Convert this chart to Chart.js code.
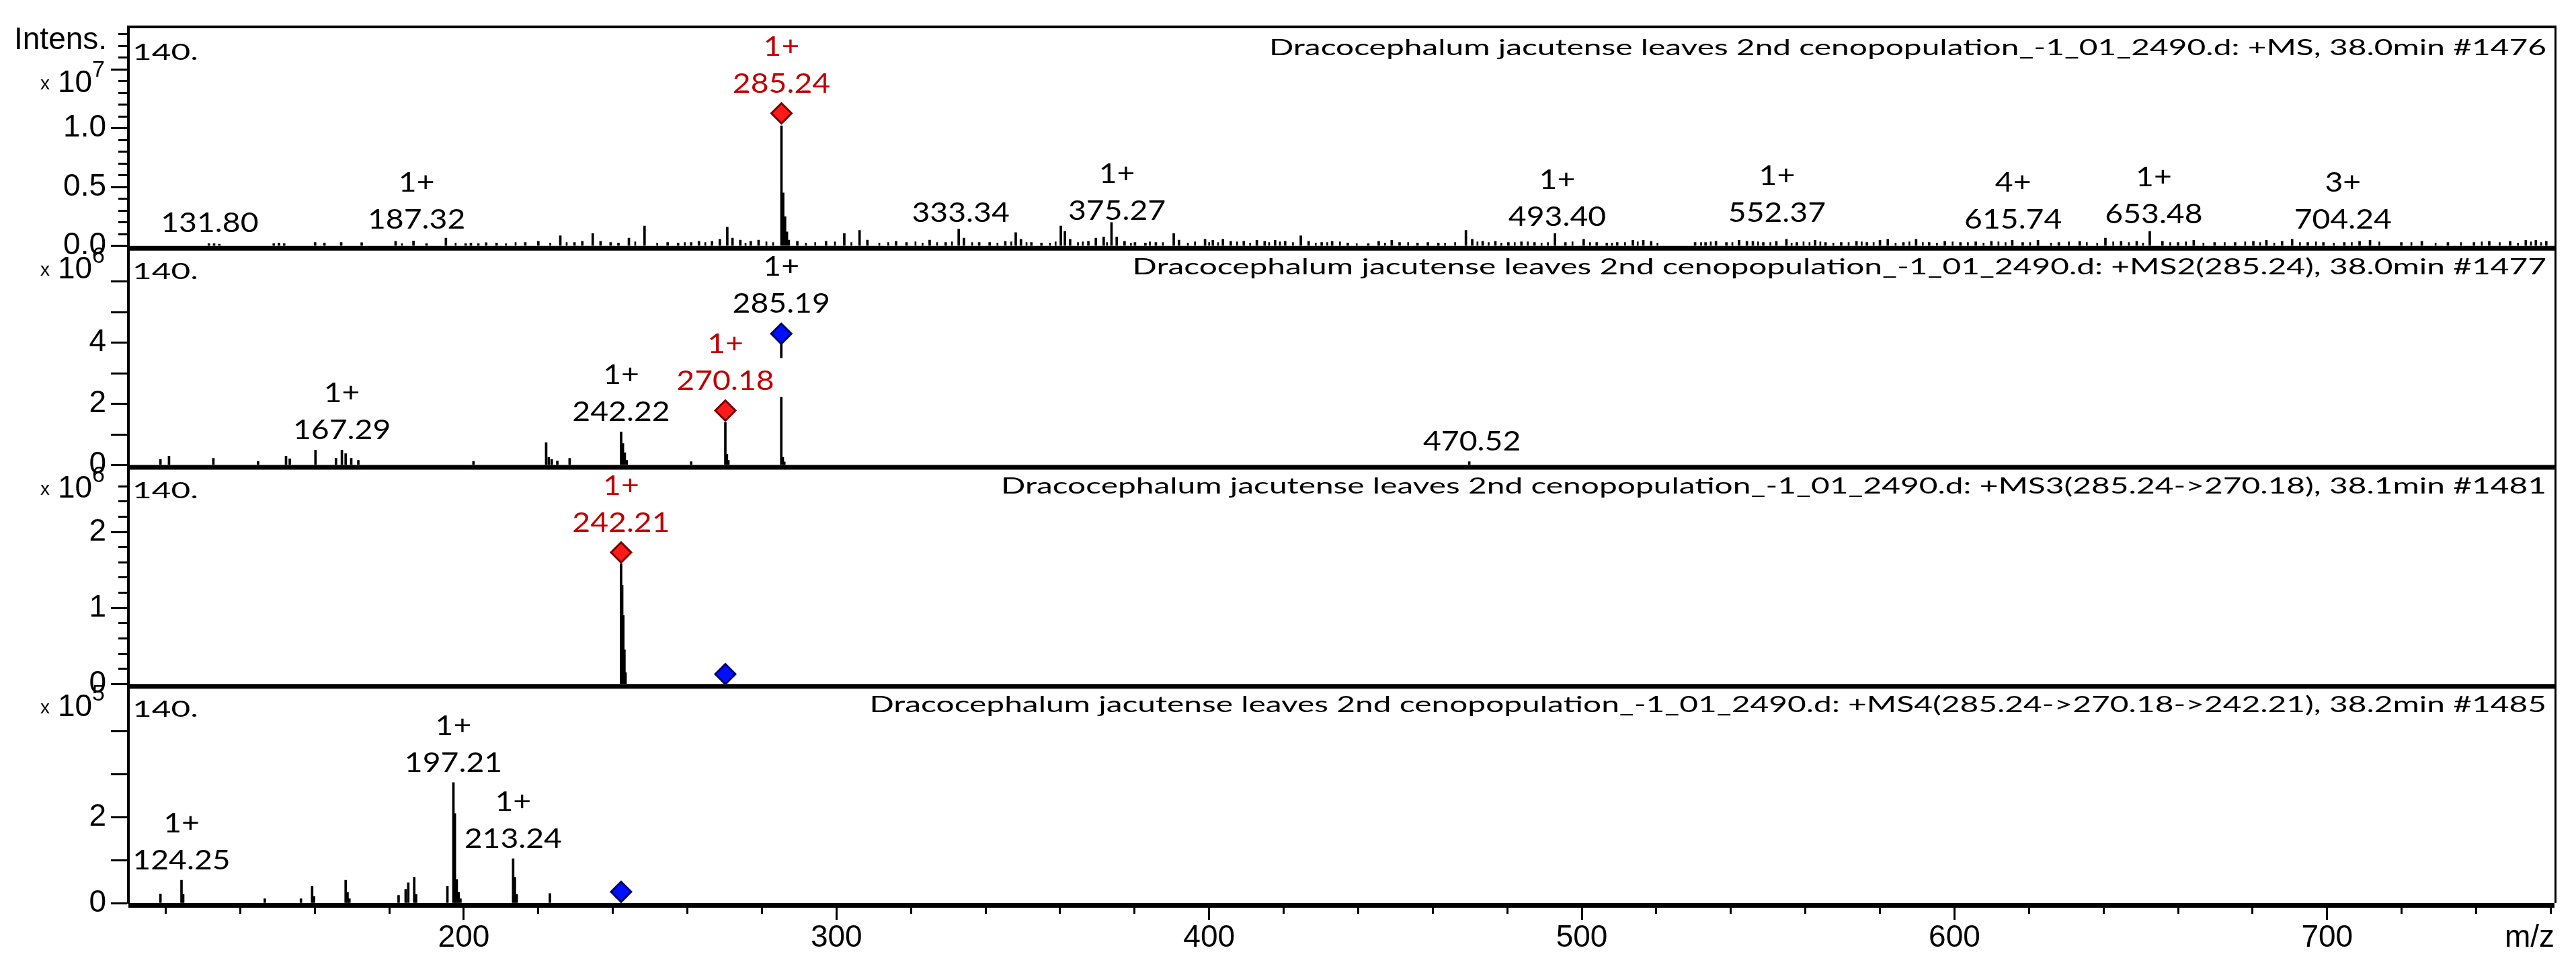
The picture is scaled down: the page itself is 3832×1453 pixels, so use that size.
<!DOCTYPE html>
<html>
<head>
<meta charset="utf-8">
<title>Dracocephalum jacutense MSn spectra</title>
<script src="https://cdn.jsdelivr.net/npm/chart.js@4.4.1/dist/chart.umd.min.js"></script>
<style>
  html, body { margin: 0; padding: 0; background: #fff; }
  canvas { display: block; }
</style>
</head>
<body>
<canvas id="spectra" width="3832" height="1453"></canvas>
<script>
'use strict';

// ---- m/z axis ----
var mzTicks = [120, 140, 160, 180, 200, 220, 240, 260, 280, 300, 320, 340, 360, 380, 400, 420, 440,
  460, 480, 500, 520, 540, 560, 580, 600, 620, 640, 660, 680, 700, 720, 740, 760];
var mzMajor = [200, 300, 400, 500, 600, 700];
var mzLabels = ['200', '300', '400', '500', '600', '700'];

// ---- panel 1: +MS (x10^7) ----
var ms1Mz = [131.6, 133.0, 134.4, 149.0, 150.4, 151.8, 160.1, 162.6, 167.1, 172.6, 181.7, 186.5, 190.0,
  195.2, 200.5, 201.9, 203.9, 206.0, 208.8, 216.5, 220.0, 225.9, 229.7, 231.8, 234.6, 236.7, 239.4,
  241.5, 244.3, 248.5, 254.7, 257.5, 261.0, 263.1, 266.6, 268.7, 270.7, 272.1, 274.2, 277.0, 279.1,
  285.24, 285.7, 286.2, 286.7, 287.2, 289.5, 297.2, 302.1, 306.2, 308.3, 316.0, 318.8, 325.0, 329.3,
  332.8, 334.2, 338.3, 341.1, 345.3, 348.1, 349.5, 352.3, 355.0, 360.2, 361.3, 362.7, 367.6, 369.6,
  371.7, 373.8, 375.2, 377.3, 380.1, 382.9, 385.7, 390.5, 391.9, 398.9, 401.0, 403.7, 405.8, 409.3,
  412.8, 414.9, 417.7, 420.4, 424.6, 426.7, 430.2, 433.0, 437.2, 442.7, 445.5, 449.0, 451.1, 455.9,
  458.7, 461.5, 468.9, 470.6, 473.4, 476.8, 480.3, 483.8, 487.3, 492.8, 495.6, 500.5, 504.0, 506.7,
  509.5, 513.7, 516.5, 518.6, 530.4, 533.2, 536.0, 538.8, 542.2, 544.3, 545.9, 548.7, 552.2, 554.9,
  557.7, 562.6, 565.4, 569.6, 573.7, 576.5, 580.0, 582.1, 586.3, 589.7, 593.2, 597.4, 601.6, 605.7,
  609.9, 615.5, 618.3, 622.4, 628.0, 633.6, 640.5, 644.7, 648.9, 652.4, 655.8, 660.0, 664.2, 669.8,
  675.3, 680.2, 683.7, 687.9, 690.6, 694.8, 699.0, 704.6, 708.7, 711.5, 719.9, 725.4, 732.4, 739.4,
  743.5, 749.1, 753.3, 756.0, 758.8];
var ms1Int = [0.02, 0.02, 0.015, 0.02, 0.025, 0.02, 0.03, 0.025, 0.03, 0.028, 0.04, 0.042, 0.02,
  0.067, 0.02, 0.025, 0.02, 0.028, 0.025, 0.03, 0.04, 0.086, 0.03, 0.04, 0.105, 0.04, 0.03,
  0.025, 0.067, 0.17, 0.03, 0.025, 0.03, 0.04, 0.04, 0.057, 0.16, 0.067, 0.05, 0.04, 0.05,
  1.02, 0.45, 0.25, 0.12, 0.05, 0.04, 0.04, 0.105, 0.133, 0.05, 0.04, 0.03, 0.05, 0.03,
  0.143, 0.067, 0.03, 0.03, 0.04, 0.114, 0.057, 0.03, 0.025, 0.17, 0.124, 0.057, 0.04, 0.067,
  0.076, 0.2, 0.076, 0.04, 0.03, 0.025, 0.03, 0.105, 0.05, 0.057, 0.048, 0.057, 0.04, 0.04,
  0.048, 0.04, 0.048, 0.04, 0.086, 0.04, 0.03, 0.04, 0.025, 0.02, 0.04, 0.048, 0.03, 0.025,
  0.03, 0.025, 0.133, 0.057, 0.04, 0.04, 0.03, 0.035, 0.03, 0.105, 0.03, 0.057, 0.03, 0.025,
  0.03, 0.048, 0.048, 0.04, 0.03, 0.03, 0.04, 0.03, 0.048, 0.04, 0.04, 0.03, 0.04, 0.057,
  0.03, 0.048, 0.03, 0.03, 0.04, 0.03, 0.048, 0.057, 0.03, 0.057, 0.03, 0.04, 0.03, 0.035,
  0.04, 0.048, 0.03, 0.048, 0.03, 0.04, 0.067, 0.04, 0.04, 0.124, 0.04, 0.03, 0.048, 0.03,
  0.03, 0.04, 0.048, 0.04, 0.057, 0.03, 0.03, 0.03, 0.04, 0.048, 0.03, 0.04, 0.03, 0.03,
  0.04, 0.04, 0.048, 0.048, 0.04];
// low-level baseline grass of the full scan
var ms1GrassMz = [183.4, 197.8, 211.3, 213.9, 223.2, 227.6, 246.0, 251.9, 259.3, 264.8, 275.6, 281.2,
  283.0, 291.8, 294.3, 299.6, 304.0, 311.5, 313.9, 321.2, 323.1, 327.0, 331.0, 336.4, 343.2, 346.9,
  351.0, 357.3, 358.8, 364.8, 366.1, 372.6, 379.0, 384.1, 387.6, 394.3, 396.2, 400.0, 402.4, 407.5,
  411.0, 416.1, 419.0, 422.5, 428.6, 431.7, 435.1, 439.6, 447.2, 453.4, 463.3, 466.0, 472.0, 475.0,
  478.4, 482.0, 485.5, 489.2, 490.9, 497.5, 502.2, 508.1, 511.6, 515.0, 520.3, 532.0, 534.6, 540.4,
  547.3, 550.6, 556.3, 559.5, 561.1, 564.0, 567.5, 571.6, 575.1, 578.3, 584.2, 587.9, 591.5, 595.3,
  599.5, 603.6, 607.8, 611.8, 613.7, 620.3, 625.9, 630.7, 635.5, 638.3, 642.6, 646.8, 650.6, 657.9,
  662.1, 666.8, 672.5, 678.0, 682.0, 685.8, 692.7, 697.0, 701.8, 706.6, 714.0, 722.6, 729.1, 735.9,
  741.5, 746.3, 751.2, 754.7, 757.4];
var ms1GrassInt = [0.02, 0.025, 0.02, 0.03, 0.025, 0.03, 0.035, 0.025, 0.03, 0.03, 0.025, 0.035,
  0.03, 0.025, 0.03, 0.035, 0.03, 0.025, 0.03, 0.035, 0.025, 0.03, 0.035, 0.03, 0.025, 0.035,
  0.03, 0.025, 0.035, 0.03, 0.035, 0.03, 0.025, 0.035, 0.03, 0.025, 0.035, 0.03, 0.03, 0.035,
  0.025, 0.03, 0.035, 0.03, 0.025, 0.03, 0.035, 0.02, 0.025, 0.03, 0.025, 0.03, 0.035, 0.03,
  0.025, 0.03, 0.035, 0.025, 0.03, 0.035, 0.03, 0.025, 0.03, 0.035, 0.025, 0.03, 0.035, 0.03,
  0.035, 0.03, 0.025, 0.035, 0.03, 0.035, 0.025, 0.03, 0.035, 0.03, 0.025, 0.035, 0.03, 0.025,
  0.035, 0.03, 0.025, 0.035, 0.03, 0.03, 0.025, 0.035, 0.03, 0.025, 0.035, 0.03, 0.025, 0.03,
  0.035, 0.025, 0.03, 0.035, 0.03, 0.025, 0.03, 0.035, 0.025, 0.03, 0.035, 0.03, 0.025, 0.03,
  0.035, 0.03, 0.025, 0.035, 0.03];
var ms1Ticks = [0, 0.1, 0.2, 0.3, 0.4, 0.5, 0.6, 0.7, 0.8, 0.9, 1.0, 1.1, 1.2, 1.3, 1.4, 1.5, 1.6, 1.7, 1.8];
var ms1Major = [0, 0.5, 1.0, 1.5];
var ms1TickLabels = ['0.0', '0.5', '1.0', ''];
var ms1LabelMz = [131.80, 187.32, 285.24, 333.34, 375.27, 493.40, 552.37, 615.74, 653.48, 704.24];
var ms1LabelCharge = ['', '1+', '1+', '', '1+', '1+', '1+', '4+', '1+', '3+'];
var ms1LabelAt = [0.027, 0.056, null, 0.113, 0.13, 0.079, 0.113, 0.056, 0.10, 0.056];
var ms1RedMz = [285.24];
var ms1RedInt = [1.126];
var ms1BlueMz = [];
var ms1BlueInt = [];

// ---- panel 2: +MS2(285.24) (x10^6) ----
var ms2Mz = [118.6, 120.9, 132.8, 144.8, 152.3, 153.3, 160.2, 165.7, 167.29, 168.3, 169.8, 171.7,
  202.6, 222.1, 222.8, 223.6, 225.1, 228.4, 242.22, 242.7, 243.2, 243.7, 261.0, 270.18, 270.6,
  271.0, 285.19, 285.6, 286.0, 469.8];
var ms2Int = [0.18, 0.29, 0.22, 0.12, 0.29, 0.2, 0.49, 0.22, 0.49, 0.37, 0.22, 0.15,
  0.12, 0.73, 0.25, 0.18, 0.13, 0.22, 1.08, 0.7, 0.4, 0.15, 0.11, 1.39, 0.35,
  0.15, 2.22, 0.25, 0.1, 0.11];
var ms2Ticks = [0, 1, 2, 3, 4, 5, 6];
var ms2Major = [0, 1, 2, 3, 4, 5, 6];
var ms2TickLabels = ['0', '', '2', '', '4', '', ''];
var ms2LabelMz = [167.29, 242.22, 270.18, 285.19, 470.52];
var ms2LabelCharge = ['1+', '1+', '1+', '1+', ''];
var ms2LabelAt = [0.49, 1.08, null, null, 0.11];
var ms2RedMz = [270.18];
var ms2RedInt = [1.78];
var ms2BlueMz = [285.19];
var ms2BlueInt = [4.29];
var ms2StemMz = [285.19];
var ms2StemRange = [[3.5, 3.98]];

// ---- panel 3: +MS3(285.24->270.18) (x10^6) ----
var ms3Mz = [242.21, 242.5, 242.8, 243.1, 243.4];
var ms3Int = [1.58, 1.3, 0.9, 0.45, 0.15];
var ms3Ticks = [0, 0.2, 0.4, 0.6, 0.8, 1.0, 1.2, 1.4, 1.6, 1.8, 2.0, 2.2, 2.4, 2.6];
var ms3Major = [0, 1.0, 2.0];
var ms3TickLabels = ['0', '1', '2'];
var ms3LabelMz = [242.21];
var ms3LabelCharge = ['1+'];
var ms3LabelAt = [null];
var ms3RedMz = [242.21];
var ms3RedInt = [1.73];
var ms3BlueMz = [270.18];
var ms3BlueInt = [0.13];

// ---- panel 4: +MS4(285.24->270.18->242.21) (x10^5) ----
var ms4Mz = [118.6, 124.25, 124.7, 146.6, 156.3, 159.3, 159.8, 168.3, 168.8, 169.3, 182.5, 184.4,
  185.1, 186.7, 187.2, 195.6, 197.21, 197.6, 198.1, 198.6, 199.1, 213.24, 213.7, 214.2, 223.1];
var ms4Int = [0.21, 0.53, 0.2, 0.1, 0.1, 0.39, 0.15, 0.53, 0.25, 0.1, 0.18, 0.32,
  0.47, 0.6, 0.2, 0.39, 2.8, 2.08, 0.55, 0.25, 0.1, 1.03, 0.6, 0.2, 0.22];
var ms4Ticks = [0, 1, 2, 3, 4];
var ms4Major = [0, 1, 2, 3, 4];
var ms4TickLabels = ['0', '', '2', '', ''];
var ms4LabelMz = [124.25, 197.21, 213.24];
var ms4LabelCharge = ['1+', '1+', '1+'];
var ms4LabelAt = [0.53, 2.8, 1.03];
var ms4RedMz = [];
var ms4RedInt = [];
var ms4BlueMz = [242.21];
var ms4BlueInt = [0.26];

var spectrumTitles = [
  'Dracocephalum jacutense leaves 2nd cenopopulation_-1_01_2490.d: +MS, 38.0min #1476',
  'Dracocephalum jacutense leaves 2nd cenopopulation_-1_01_2490.d: +MS2(285.24), 38.0min #1477',
  'Dracocephalum jacutense leaves 2nd cenopopulation_-1_01_2490.d: +MS3(285.24->270.18), 38.1min #1481',
  'Dracocephalum jacutense leaves 2nd cenopopulation_-1_01_2490.d: +MS4(285.24->270.18->242.21), 38.2min #1485'
];
var scaleExponents = ['7', '6', '6', '5'];

// ---- styling ----
var AXIS_FONT = '"Liberation Sans", Arial, sans-serif';
var NOTE_FONT = 'Lato, "Open Sans", sans-serif';
var RED_TEXT = '#c00000';
var MARKER_R = 15;
var LABEL_GAP = 16;
var CHARGE_STEP = 55;

function pts(mz, val) {
  return mz.map(function(m, i) { return {x: m, y: val[i]}; });
}

function has(list, v) {
  for (var i = 0; i < list.length; i++) {
    if (Math.abs(list[i] - v) < 1e-6) return i;
  }
  return -1;
}

var panels = [
  {id: 'yMS1', max: 1.86, mz: ms1Mz, val: ms1Int, ticks: ms1Ticks, major: ms1Major, tickLabels: ms1TickLabels,
    labelMz: ms1LabelMz, labelCharge: ms1LabelCharge, labelAt: ms1LabelAt,
    redMz: ms1RedMz, redInt: ms1RedInt, blueMz: ms1BlueMz, blueInt: ms1BlueInt},
  {id: 'yMS2', max: 7.16, mz: ms2Mz, val: ms2Int, ticks: ms2Ticks, major: ms2Major, tickLabels: ms2TickLabels,
    labelMz: ms2LabelMz, labelCharge: ms2LabelCharge, labelAt: ms2LabelAt,
    redMz: ms2RedMz, redInt: ms2RedInt, blueMz: ms2BlueMz, blueInt: ms2BlueInt},
  {id: 'yMS3', max: 2.88, mz: ms3Mz, val: ms3Int, ticks: ms3Ticks, major: ms3Major, tickLabels: ms3TickLabels,
    labelMz: ms3LabelMz, labelCharge: ms3LabelCharge, labelAt: ms3LabelAt,
    redMz: ms3RedMz, redInt: ms3RedInt, blueMz: ms3BlueMz, blueInt: ms3BlueInt},
  {id: 'yMS4', max: 5.09, mz: ms4Mz, val: ms4Int, ticks: ms4Ticks, major: ms4Major, tickLabels: ms4TickLabels,
    labelMz: ms4LabelMz, labelCharge: ms4LabelCharge, labelAt: ms4LabelAt,
    redMz: ms4RedMz, redInt: ms4RedInt, blueMz: ms4BlueMz, blueInt: ms4BlueInt}
];

// ---- datasets ----
var datasets = [];
panels.forEach(function(p) {
  datasets.push({
    type: 'line', yAxisID: p.id, order: 0, showLine: false,
    data: pts(p.redMz, p.redInt),
    pointStyle: 'rectRot', pointRadius: MARKER_R, pointBorderWidth: 3,
    pointBackgroundColor: '#ff1a1a', pointBorderColor: '#7a0000'
  });
  datasets.push({
    type: 'line', yAxisID: p.id, order: 0, showLine: false,
    data: pts(p.blueMz, p.blueInt),
    pointStyle: 'rectRot', pointRadius: MARKER_R, pointBorderWidth: 3,
    pointBackgroundColor: '#0010ff', pointBorderColor: '#000070'
  });
  datasets.push({
    type: 'bar', yAxisID: p.id, order: 1,
    data: pts(p.mz, p.val),
    backgroundColor: '#000', borderWidth: 0, barThickness: 3, grouped: false
  });
});
datasets.push({
  type: 'bar', yAxisID: 'yMS1', order: 1,
  data: pts(ms1GrassMz, ms1GrassInt),
  backgroundColor: '#000', borderWidth: 0, barThickness: 2, grouped: false
});
datasets.push({
  type: 'bar', yAxisID: 'yMS2', order: 1,
  data: pts(ms2StemMz, ms2StemRange),
  backgroundColor: '#000', borderWidth: 0, barThickness: 3, grouped: false
});

// ---- scales ----
var scales = {
  x: {
    type: 'linear', min: 110, max: 761, offset: false,
    border: {display: false},
    grid: {
      offset: false, drawOnChartArea: false, drawTicks: true,
      tickLength: 25, tickWidth: 3, tickColor: '#000',
      tickBorderDash: function(c) {
        return c.tick && has(mzMajor, c.tick.value) >= 0 ? [] : [16, 100];
      }
    },
    ticks: {
      autoSkip: false, maxRotation: 0, minRotation: 0, padding: 0, color: '#000',
      font: {family: AXIS_FONT, size: 46},
      callback: function(v) {
        var i = has(mzMajor, v);
        return i >= 0 ? mzLabels[i] : '';
      }
    },
    afterBuildTicks: function(s) {
      s.ticks = mzTicks.map(function(v) { return {value: v}; });
    },
    afterFit: function(s) { s.height = 110; },
    title: {
      display: true, text: 'm/z', align: 'end', color: '#000',
      font: {family: AXIS_FONT, size: 46}, padding: {top: 0, bottom: 30}
    }
  }
};

panels.forEach(function(p, k) {
  scales[p.id] = {
    type: 'linear', position: 'left', stack: 'spectra', stackWeight: 1, weight: 4 - k,
    min: 0, max: p.max,
    border: {display: true, color: '#000', width: 4},
    grid: {
      drawOnChartArea: false, drawTicks: true,
      tickLength: 26, tickWidth: 3, tickColor: '#000',
      tickBorderDash: function(c) {
        return c.tick && has(p.major, c.tick.value) >= 0 ? [] : [0, 11, 13, 100];
      }
    },
    ticks: {
      autoSkip: false, padding: 7, color: '#000',
      font: {family: AXIS_FONT, size: 46},
      callback: function(v) {
        var i = has(p.major, v);
        return i >= 0 ? p.tickLabels[i] : '';
      }
    },
    afterBuildTicks: function(s) {
      s.ticks = p.ticks.map(function(v) { return {value: v}; });
    },
    afterFit: function(s) { s.width = 191; }
  };
});

// ---- text and frame ----
function stretchText(ctx, text, x, y, sx, align) {
  ctx.save();
  ctx.translate(x, y);
  ctx.scale(sx, 1);
  ctx.textAlign = align;
  ctx.fillText(text, 0, 0);
  ctx.restore();
}

function markerAt(p, m) {
  var i = has(p.redMz, m);
  if (i >= 0) return {y: p.redInt[i], red: true};
  i = has(p.blueMz, m);
  if (i >= 0) return {y: p.blueInt[i], red: false};
  return null;
}

var spectrumText = {
  id: 'spectrumText',
  beforeDatasetsDraw: function(chart) {
    var ctx = chart.ctx, a = chart.chartArea;
    ctx.save();
    ctx.fillStyle = '#000';
    panels.forEach(function(p) {
      var y0 = chart.scales[p.id].getPixelForValue(0);
      ctx.fillRect(a.left, y0, a.right - a.left, 7);
    });
    ctx.fillRect(a.left, a.top - 2, a.right - a.left + 3, 4);
    ctx.fillRect(a.right, a.top - 2, 3, a.bottom - a.top + 2);
    ctx.restore();
  },
  afterDatasetsDraw: function(chart) {
    var ctx = chart.ctx, a = chart.chartArea, xs = chart.scales.x;
    ctx.save();
    ctx.textBaseline = 'alphabetic';

    // Intens. and x10^n
    ctx.fillStyle = '#000';
    ctx.font = '46px ' + AXIS_FONT;
    ctx.textAlign = 'left';
    ctx.fillText('Intens.', 21, chart.scales.yMS1.top + 33);

    panels.forEach(function(p, k) {
      var ys = chart.scales[p.id];
      var top = ys.top + (k === 0 ? 49 : 0);
      ctx.fillStyle = '#000';
      ctx.textAlign = 'left';
      ctx.font = '28px ' + AXIS_FONT;
      ctx.fillText('x', 60, top + 44);
      ctx.font = '46px ' + AXIS_FONT;
      ctx.fillText('10', 86, top + 48);
      ctx.font = '34px ' + AXIS_FONT;
      ctx.fillText(scaleExponents[k], 137, top + 25);

      // scan title and low-mass cut-off
      ctx.font = '33px ' + NOTE_FONT;
      stretchText(ctx, spectrumTitles[k], a.right - 12, ys.top + 42, 1.45, 'right');
      ctx.font = '32px ' + NOTE_FONT;
      stretchText(ctx, '140.', a.left + 6, ys.top + 49, 1.55, 'left');

      // peak labels
      ctx.font = '41px ' + NOTE_FONT;
      p.labelMz.forEach(function(m, i) {
        var x = xs.getPixelForValue(m);
        var mk = markerAt(p, m);
        var anchor = mk ? ys.getPixelForValue(mk.y) - MARKER_R : ys.getPixelForValue(p.labelAt[i]);
        var base = anchor - LABEL_GAP;
        ctx.fillStyle = mk && mk.red ? RED_TEXT : '#000';
        stretchText(ctx, m.toFixed(2), x, base, 1.13, 'center');
        if (p.labelCharge[i]) {
          stretchText(ctx, p.labelCharge[i], x, base - CHARGE_STEP, 1.13, 'center');
        }
      });
    });
    ctx.restore();
  }
};

Chart.defaults.font.family = AXIS_FONT;

new Chart(document.getElementById('spectra'), {
  type: 'bar',
  data: {datasets: datasets},
  options: {
    responsive: false,
    animation: false,
    devicePixelRatio: 1,
    events: [],
    layout: {padding: {left: 0, right: 32, top: 40, bottom: 0}},
    plugins: {legend: {display: false}, tooltip: {enabled: false}},
    scales: scales
  },
  plugins: [spectrumText]
});
</script>
</body>
</html>
